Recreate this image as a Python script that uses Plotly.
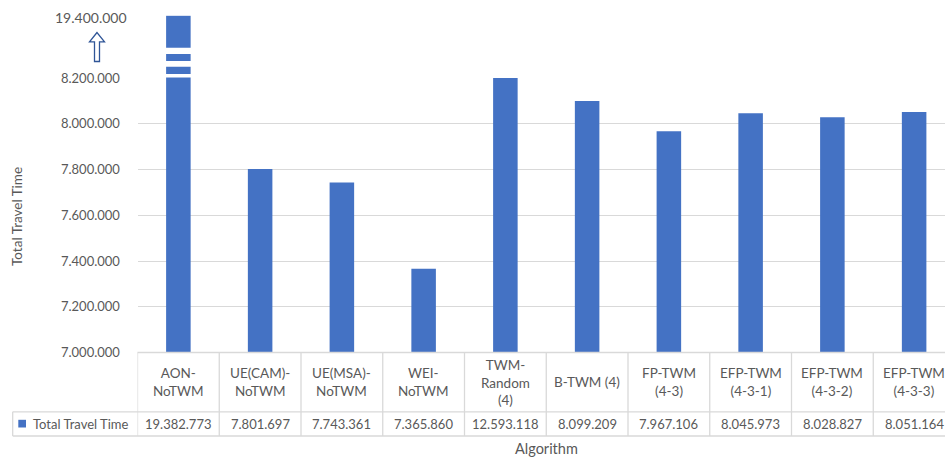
import plotly.graph_objects as go

# ---- data ----
algorithms = [
    "AON-NoTWM", "UE(CAM)-NoTWM", "UE(MSA)-NoTWM", "WEI-NoTWM",
    "TWM-Random (4)", "B-TWM (4)", "FP-TWM (4-3)",
    "EFP-TWM (4-3-1)", "EFP-TWM (4-3-2)", "EFP-TWM (4-3-3)",
]
tick_labels = [
    "AON-<br>NoTWM", "UE(CAM)-<br>NoTWM", "UE(MSA)-<br>NoTWM", "WEI-<br>NoTWM",
    "TWM-<br>Random<br>(4)", "B-TWM (4)", "FP-TWM<br>(4-3)",
    "EFP-TWM<br>(4-3-1)", "EFP-TWM<br>(4-3-2)", "EFP-TWM<br>(4-3-3)",
]
total_travel_time = [
    19382773, 7801697, 7743361, 7365860, 12593118,
    8099209, 7967106, 8045973, 8028827, 8051164,
]
series_name = "Total Travel Time"
y_ticks = [7000000, 7200000, 7400000, 7600000, 7800000, 8000000, 8200000]
broken_top_label = 19400000

# ---- styling ----
W, H = 945, 457
BLUE = "#4472C4"
TEXT = "#595959"
GRID = "#D9D9D9"
FONT = "Lato"


def fx(px):
    return px / W


def fy(py):
    return 1 - py / H


def fmt(v):
    return f"{v:,}".replace(",", ".")


fig = go.Figure()

# main (lower) panel
fig.add_trace(go.Bar(
    x=algorithms, y=total_travel_time, name=series_name,
    marker=dict(color=BLUE, line=dict(width=0)),
    width=0.3, xaxis="x", yaxis="y",
))
# upper panel of the broken axis: only the tallest bar reaches it
fig.add_trace(go.Bar(
    x=algorithms, y=total_travel_time, name=series_name, showlegend=False,
    marker=dict(color=BLUE, line=dict(width=0)),
    width=0.3, xaxis="x", yaxis="y2",
))

x_left = 137.5
col_w = 81.75
x_end = -0.5 + (W - x_left) / col_w

shapes = []
# break marks cut through the tall bar
for top, bot in [(47.7, 54.0), (61.0, 66.7), (74.0, 77.6)]:
    shapes.append(dict(type="rect", xref="x", yref="paper",
                       x0=-0.22, x1=0.22, y0=fy(bot), y1=fy(top),
                       fillcolor="white", line=dict(width=0), layer="above"))

# data table grid
line_style = dict(color=GRID, width=1.3)
shapes.append(dict(type="line", xref="paper", yref="paper",
                   x0=fx(x_left), x1=1, y0=fy(352.5), y1=fy(352.5), line=line_style))
for yy in (411.8, 436.0):
    shapes.append(dict(type="line", xref="paper", yref="paper",
                       x0=fx(12.7), x1=1, y0=fy(yy), y1=fy(yy), line=line_style))
shapes.append(dict(type="line", xref="paper", yref="paper",
                   x0=fx(12.7), x1=fx(12.7), y0=fy(436.0), y1=fy(411.8), line=line_style))
for i in range(len(algorithms)):
    shapes.append(dict(type="line", xref="x", yref="paper",
                       x0=i - 0.5, x1=i - 0.5, y0=fy(436.0), y1=fy(352.5), line=line_style))

# legend key in the table
shapes.append(dict(type="rect", xref="paper", yref="paper",
                   x0=fx(18.3), x1=fx(26), y0=fy(427.5), y1=fy(419.8),
                   fillcolor=BLUE, line=dict(width=0)))

# outlined up arrow marking the axis break
arrow_pts = [(97, 32.5), (89.5, 41.8), (94.5, 41.8), (94.5, 61.5),
             (99.5, 61.5), (99.5, 41.8), (104.5, 41.8)]
path = "M " + " L ".join(f"{fx(a):.5f},{fy(b):.5f}" for a, b in arrow_pts) + " Z"
shapes.append(dict(type="path", xref="paper", yref="paper", path=path,
                   fillcolor="white", line=dict(color="#2F5597", width=1.3)))

annotations = []
for i, (cat, lab) in enumerate(zip(algorithms, tick_labels)):
    annotations.append(dict(x=cat, y=fy(382), xref="x", yref="paper",
                            text=lab, showarrow=False, yanchor="middle",
                            xanchor="center",
                            font=dict(family=FONT, size=13.5, color=TEXT)))
for cat, v in zip(algorithms, total_travel_time):
    annotations.append(dict(x=cat, y=fy(424), xref="x", yref="paper",
                            text=fmt(v), showarrow=False, yanchor="middle",
                            xanchor="center",
                            font=dict(family=FONT, size=13, color=TEXT)))
annotations.append(dict(x=fx(30.5), y=fy(424), xref="paper", yref="paper",
                        text=series_name, showarrow=False, xanchor="left",
                        yanchor="middle",
                        font=dict(family=FONT, size=13, color=TEXT)))
annotations.append(dict(x=fx(17), y=fy(217), xref="paper", yref="paper",
                        text="Total Travel Time", textangle=-90, showarrow=False,
                        xanchor="center", yanchor="middle",
                        font=dict(family=FONT, size=13.5, color=TEXT)))
annotations.append(dict(x=fx(546), y=fy(448), xref="paper", yref="paper",
                        text="Algorithm", showarrow=False,
                        xanchor="center", yanchor="middle",
                        font=dict(family=FONT, size=14.5, color=TEXT)))
annotations.append(dict(x=fx(90.5), y=fy(18), xref="paper", yref="paper",
                        text=fmt(broken_top_label), showarrow=False,
                        xanchor="center", yanchor="middle",
                        font=dict(family=FONT, size=14, color=TEXT)))

fig.update_layout(
    width=W, height=H, autosize=False,
    margin=dict(l=0, r=0, t=0, b=0, pad=0, autoexpand=False),
    paper_bgcolor="white", plot_bgcolor="white",
    showlegend=False,
    separators=",.",
    barmode="group",
    xaxis=dict(domain=[fx(x_left), 1], range=[-0.5, x_end], type="category",
               showticklabels=False, showgrid=False, zeroline=False,
               showline=False, ticks="", anchor="y", automargin=False),
    yaxis=dict(domain=[fy(352.5), fy(78)], range=[7000000, 8200000],
               tickvals=y_ticks, tickformat=",d",
               showgrid=True, gridcolor=GRID, gridwidth=1.3,
               zeroline=False, showline=False,
               ticks="outside", ticklen=14, tickcolor="rgba(0,0,0,0)",
               tickfont=dict(family=FONT, size=13, color=TEXT), anchor="x",
               automargin=False),
    yaxis2=dict(domain=[fy(78), fy(15.2)], range=[17200000, 19400000],
                visible=False, showgrid=False, zeroline=False, anchor="x",
                automargin=False),
    shapes=shapes,
    annotations=annotations,
)

fig.write_html("out.html")
